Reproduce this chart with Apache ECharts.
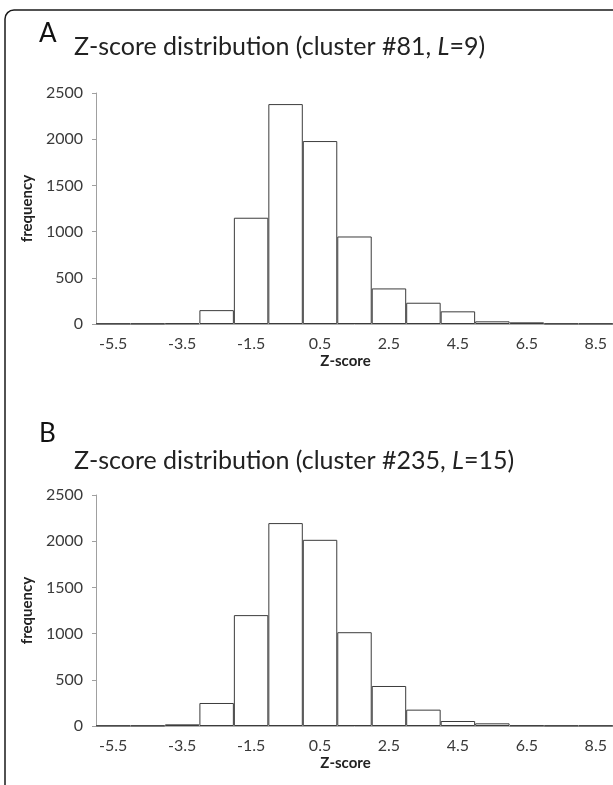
<!DOCTYPE html>
<html>
<head>
<meta charset="utf-8">
<script src="https://cdn.jsdelivr.net/npm/echarts@6/dist/echarts.min.js"></script>
<style>html,body{margin:0;padding:0;background:#fff}#c{width:613px;height:785px}</style>
</head>
<body>
<div id="c"></div>
<script>
var categories = ['-5.5','-4.5','-3.5','-2.5','-1.5','-0.5','0.5','1.5','2.5','3.5','4.5','5.5','6.5','7.5','8.5'];
var valuesA = [5, 5, 8, 150, 1150, 2380, 1980, 947, 385, 230, 137, 29, 18, 5, 5];
var valuesB = [5, 5, 18, 249, 1200, 2196, 2015, 1015, 433, 177, 54, 29, 7, 5, 5];
var yTicks = [0, 500, 1000, 1500, 2000, 2500];
var panelLabels = ['A', 'B'];
var titleA = ['Z-score distribution (cluster #81, ', 'L', '=9)'];
var titleB = ['Z-score distribution (cluster #235, ', 'L', '=15)'];

var FONT = 'Lato';
var chart = echarts.init(document.getElementById('c'), null, {renderer: 'canvas'});

function mkTitle(parts, top) {
  return {
    text: '{a|' + parts[0] + '}{i|' + parts[1] + '}{a|' + parts[2] + '}',
    left: 74, top: top, padding: 0,
    textStyle: {
      fontWeight: 'normal',
      rich: {
        a: {fontFamily: FONT, fontSize: 25, color: '#222', fontWeight: 'normal'},
        i: {fontFamily: FONT, fontSize: 25, color: '#222', fontWeight: 'normal', fontStyle: 'italic'}
      }
    }
  };
}
function mkLetter(t, top) {
  return {text: t, left: 39, top: top, padding: 0,
    textStyle: {fontFamily: FONT, fontSize: 26, fontWeight: 'normal', color: '#111'}};
}
function xAx(idx) {
  return {
    type: 'category', gridIndex: idx, data: categories,
    axisLine: {lineStyle: {color: '#b0b0b0', width: 1}},
    axisTick: {show: false},
    axisLabel: {interval: 1, margin: 12, fontFamily: FONT, fontSize: 16, color: '#3a3a3a'},
    name: 'Z-score', nameLocation: 'middle', nameGap: 30,
    nameTextStyle: {fontFamily: FONT, fontSize: 15, fontWeight: 'bold', color: '#222', padding: [0, 18, 0, 0]}
  };
}
function yAx(idx) {
  return {
    type: 'value', gridIndex: idx, min: 0, max: 2500, interval: 500,
    axisLine: {show: true, lineStyle: {color: '#a0a0a0', width: 1}},
    axisTick: {show: true, length: 4, lineStyle: {color: '#a0a0a0'}},
    splitLine: {show: false},
    axisLabel: {margin: 13, fontFamily: FONT, fontSize: 16, color: '#3a3a3a',
      formatter: function (v) { return String(v); }},
    name: 'frequency', nameLocation: 'middle', nameGap: 60, nameRotate: 90,
    nameTextStyle: {fontFamily: FONT, fontSize: 15, fontWeight: 'bold', color: '#222'}
  };
}
function bars(idx, vals) {
  return {
    type: 'bar', xAxisIndex: idx, yAxisIndex: idx, data: vals,
    barCategoryGap: '0%', barGap: '0%',
    itemStyle: {color: '#ffffff', borderColor: '#3c3c3c', borderWidth: 1},
    emphasis: {disabled: true}, animation: false
  };
}

chart.setOption({
  animation: false,
  backgroundColor: '#fff',
  title: [mkLetter(panelLabels[0], 21), mkTitle(titleA, 34), mkLetter(panelLabels[1], 421), mkTitle(titleB, 448)],
  grid: [
    {left: 96, top: 93, height: 231, right: -1},
    {left: 96, top: 495, height: 231, right: -1}
  ],
  xAxis: [xAx(0), xAx(1)],
  yAxis: [yAx(0), yAx(1)],
  series: [bars(0, valuesA), bars(1, valuesB)],
  graphic: [{
    type: 'rect', silent: true,
    shape: {x: 5, y: 10, width: 700, height: 900, r: 9},
    style: {fill: 'none', stroke: '#1a1a1a', lineWidth: 1.5}
  }]
});
</script>
</body>
</html>
